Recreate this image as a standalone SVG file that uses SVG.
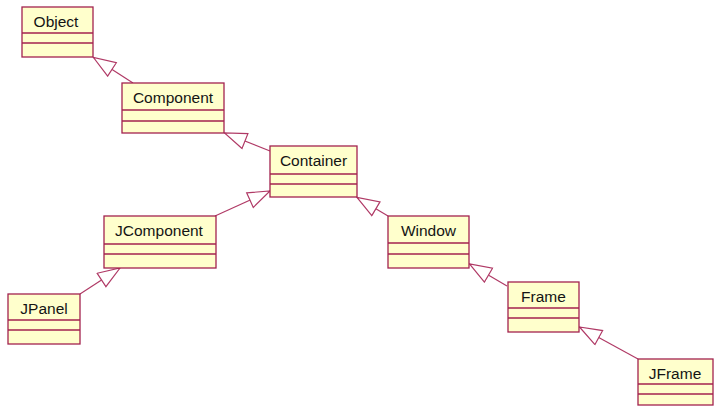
<svg xmlns="http://www.w3.org/2000/svg" width="714" height="407" viewBox="0 0 714 407">
<defs>
<style>
.box{fill:#FFFFCC;stroke:#A3224F;stroke-width:1.3}
.div{stroke:#A3224F;stroke-width:1.3}
.lbl{font-family:"Liberation Sans",Arial,sans-serif;font-size:15.5px;fill:#141414;text-anchor:middle}
.conn{stroke:#B03A66;stroke-width:1.2;fill:none;marker-end:url(#gen)}
</style>
<marker id="gen" markerUnits="userSpaceOnUse" markerWidth="26" markerHeight="20" refX="23" refY="9" orient="auto">
<path d="M1,1 L23,9 L1,17 Z" fill="#FFFFFF" stroke="#B03A66" stroke-width="1.2"/>
</marker>
</defs>
<rect width="714" height="407" fill="#FFFFFF"/>
<g id="connectors">
<line class="conn" x1="133" y1="83" x2="93.5" y2="57.5"/>
<line class="conn" x1="270" y1="151" x2="224.5" y2="133"/>
<line class="conn" x1="215" y1="216" x2="270" y2="191"/>
<line class="conn" x1="80" y1="294" x2="120" y2="268"/>
<line class="conn" x1="388" y1="216" x2="357" y2="197.5"/>
<line class="conn" x1="507" y1="286" x2="469.5" y2="264"/>
<line class="conn" x1="638" y1="359" x2="579.5" y2="327"/>
</g>
<g id="Object">
<rect class="box" x="22" y="7" width="71" height="50"/>
<line class="div" x1="22" y1="33" x2="93" y2="33"/>
<line class="div" x1="22" y1="43" x2="93" y2="43"/>
<text class="lbl" x="56" y="27">Object</text>
</g>
<g id="Component">
<rect class="box" x="122" y="83" width="102" height="50"/>
<line class="div" x1="122" y1="110" x2="224" y2="110"/>
<line class="div" x1="122" y1="121" x2="224" y2="121"/>
<text class="lbl" x="173" y="103">Component</text>
</g>
<g id="Container">
<rect class="box" x="270" y="146" width="87" height="51"/>
<line class="div" x1="270" y1="174" x2="357" y2="174"/>
<line class="div" x1="270" y1="184" x2="357" y2="184"/>
<text class="lbl" x="313.5" y="166">Container</text>
</g>
<g id="JComponent">
<rect class="box" x="104" y="216" width="112" height="52"/>
<line class="div" x1="104" y1="244" x2="216" y2="244"/>
<line class="div" x1="104" y1="254" x2="216" y2="254" stroke-width="2"/>
<text class="lbl" x="159" y="236">JComponent</text>
</g>
<g id="JPanel">
<rect class="box" x="8" y="294" width="72" height="50" stroke-width="2"/>
<line class="div" x1="8" y1="320" x2="80" y2="320"/>
<line class="div" x1="8" y1="330" x2="80" y2="330" stroke-width="2"/>
<text class="lbl" x="44" y="314">JPanel</text>
</g>
<g id="Window">
<rect class="box" x="388" y="216" width="81" height="52"/>
<line class="div" x1="388" y1="243" x2="469" y2="243"/>
<line class="div" x1="388" y1="254" x2="469" y2="254" stroke-width="2"/>
<text class="lbl" x="428.5" y="236">Window</text>
</g>
<g id="Frame">
<rect class="box" x="508" y="282" width="71" height="50"/>
<line class="div" x1="508" y1="308" x2="579" y2="308" stroke-width="2"/>
<line class="div" x1="508" y1="318" x2="579" y2="318"/>
<text class="lbl" x="543.5" y="302">Frame</text>
</g>
<g id="JFrame">
<rect class="box" x="638" y="359" width="75" height="46"/>
<line class="div" x1="638" y1="384" x2="713" y2="384" stroke-width="2"/>
<line class="div" x1="638" y1="394" x2="713" y2="394"/>
<text class="lbl" x="675" y="379">JFrame</text>
</g>
</svg>
